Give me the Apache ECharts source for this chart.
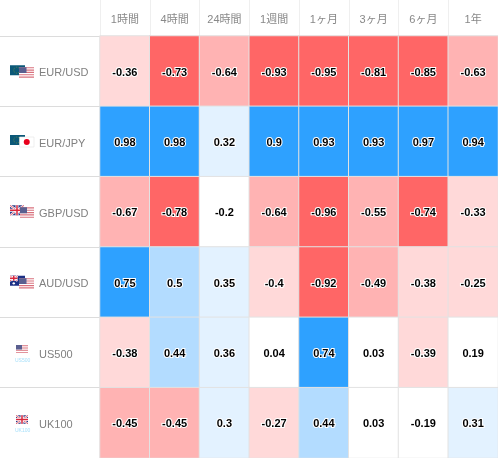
<!DOCTYPE html>
<html>
<head>
<meta charset="utf-8">
<style>html,body{margin:0;padding:0;background:#fff}#c{width:498px;height:458px}</style>
<script src="https://cdn.jsdelivr.net/npm/echarts@6/dist/echarts.min.js"></script>
</head>
<body>
<div id="c"></div>
<script>
const periods = ['1時間','4時間','24時間','1週間','1ヶ月','3ヶ月','6ヶ月','1年'];
const instruments = ['EUR/USD','EUR/JPY','GBP/USD','AUD/USD','US500','UK100'];
const indexCaptions = ['','','','','US500','UK100'];
const eurUsd = [-0.36,-0.73,-0.64,-0.93,-0.95,-0.81,-0.85,-0.63];
const eurJpy = [0.98,0.98,0.32,0.9,0.93,0.93,0.97,0.94];
const gbpUsd = [-0.67,-0.78,-0.2,-0.64,-0.96,-0.55,-0.74,-0.33];
const audUsd = [0.75,0.5,0.35,-0.4,-0.92,-0.49,-0.38,-0.25];
const us500 = [-0.38,0.44,0.36,0.04,0.74,0.03,-0.39,0.19];
const uk100 = [-0.45,-0.45,0.3,-0.27,0.44,0.03,-0.19,0.31];
const rows = [eurUsd,eurJpy,gbpUsd,audUsd,us500,uk100];

const cells = [];
rows.forEach((r,y)=>r.forEach((v,x)=>cells.push([x,y,v])));

const FONT = '"Liberation Sans", Arial, sans-serif';

// flag artwork
const us = (x,y,w,h)=>{
  let s=`<rect x="${x}" y="${y}" width="${w}" height="${h}" fill="#fff"/>`;
  for(let i=0;i<5;i++) s+=`<rect x="${x}" y="${y+i*h/4.6}" width="${w}" height="${h/9.2}" fill="#d9717d"/>`;
  s+=`<rect x="${x}" y="${y}" width="${w*0.5}" height="${h*0.55}" fill="#5a5f8f"/>`;
  return s;
};
const eu = (x,y,w,h)=>{
  let s=`<rect x="${x}" y="${y}" width="${w}" height="${h}" fill="#0b5878"/>`;
  s+=`<circle cx="${x+w*0.45}" cy="${y+h*0.5}" r="${h*0.3}" fill="none" stroke="#7f9a3c" stroke-width="0.7" stroke-dasharray="1 1.2"/>`;
  return s;
};
const jp = (x,y,w,h)=>`<rect x="${x}" y="${y}" width="${w}" height="${h}" fill="#fff" stroke="#e4e4e4" stroke-width="0.6"/><circle cx="${x+w/2}" cy="${y+h/2}" r="${h*0.3}" fill="#e8001c"/>`;
const uk = (x,y,w,h)=>`<rect x="${x}" y="${y}" width="${w}" height="${h}" fill="#2b3a86"/>
<path d="M${x} ${y}L${x+w} ${y+h}M${x+w} ${y}L${x} ${y+h}" stroke="#fff" stroke-width="2"/>
<path d="M${x} ${y}L${x+w} ${y+h}M${x+w} ${y}L${x} ${y+h}" stroke="#d9263c" stroke-width="0.7"/>
<path d="M${x+w/2} ${y}V${y+h}M${x} ${y+h/2}H${x+w}" stroke="#fff" stroke-width="3"/>
<path d="M${x+w/2} ${y}V${y+h}M${x} ${y+h/2}H${x+w}" stroke="#d9263c" stroke-width="1.5"/>`;
const au = (x,y,w,h)=>`<rect x="${x}" y="${y}" width="${w}" height="${h}" fill="#1c2f85"/>
<g>${uk(x,y,w/2,h/2)}</g><circle cx="${x+w*0.25}" cy="${y+h*0.75}" r="1.2" fill="#fff"/><circle cx="${x+w*0.75}" cy="${y+h*0.5}" r="0.8" fill="#fff"/>`;
const svg = inner=>'data:image/svg+xml;charset=utf-8,'+encodeURIComponent(
  `<svg xmlns="http://www.w3.org/2000/svg" width="39" height="30" viewBox="0 0 39 30">${inner}</svg>`);
const flagArt = {
  a: svg(eu(10,7,15,10)+us(19,9,15,10.7)),
  b: svg(eu(10,6.5,15,10)+jp(19.5,8.5,14.5,10)),
  c: svg(uk(10,6.5,14,10)+us(20,8.5,14,10.7)),
  d: svg(au(10,6.7,15,10)+us(19,9,15,10.5)),
  e: svg(us(16,5.5,12,8)),
  f: svg(uk(16,5.5,12,8.5))
};
const flagKeys = ['a','b','c','d','e','f'];
const rich = {name:{color:'#808080',fontSize:11,fontFamily:FONT}};
flagKeys.forEach(k=>{
  rich[k]={
    width:14,height:14,padding:[14,10,2,15],align:'left',verticalAlign:'middle',
    fontSize:5,lineHeight:6,color:'#a8e0fa',fontFamily:FONT,
    backgroundColor:{image:flagArt[k]}
  };
});

const chart = echarts.init(document.getElementById('c'),null,{renderer:'canvas'});
chart.setOption({
  animation:false,
  backgroundColor:'#fff',
  grid:{left:100,right:0,top:36,bottom:0,outerBoundsMode:'none'},
  xAxis:{
    type:'category',position:'top',data:periods,
    axisLine:{show:false},
    axisTick:{show:true,length:36,lineStyle:{color:'#efefef',width:1}},
    splitLine:{show:false},
    axisLabel:{color:'#888',fontSize:11,margin:11,fontFamily:'"Liberation Sans","Noto Sans CJK JP",sans-serif',interval:0}
  },
  yAxis:{
    type:'category',inverse:true,data:instruments,
    axisLine:{show:false},
    axisTick:{show:true,length:100,lineStyle:{color:'#dcdcdc',width:1}},
    splitLine:{show:false},
    axisLabel:{
      align:'left',margin:100,interval:0,padding:[4,0,0,0],
      formatter:(v,i)=>`{${flagKeys[i]}|${indexCaptions[i]}}{name|${v}}`,
      rich
    }
  },
  visualMap:{
    show:false,type:'piecewise',dimension:2,seriesIndex:0,
    pieces:[
      {lt:-0.7,color:'#ff6666'},
      {gte:-0.7,lt:-0.4,color:'#ffb3b3'},
      {gte:-0.4,lt:-0.2,color:'#ffd9d9'},
      {gte:-0.2,lt:0.2,color:'#ffffff'},
      {gte:0.2,lt:0.4,color:'#e3f2ff'},
      {gte:0.4,lt:0.7,color:'#b3dcff'},
      {gte:0.7,color:'#2ea1ff'}
    ]
  },
  series:[{
    type:'heatmap',data:cells,
    itemStyle:{borderColor:'#e2e2e2',borderWidth:1},
    label:{
      show:true,color:'#000',fontWeight:'bold',fontSize:11,fontFamily:FONT,
      textBorderColor:'#fff',textBorderWidth:2,offset:[0,1.5],
      formatter:p=>String(p.value[2])
    },
    emphasis:{disabled:true}
  }]
});
</script>
</body>
</html>
